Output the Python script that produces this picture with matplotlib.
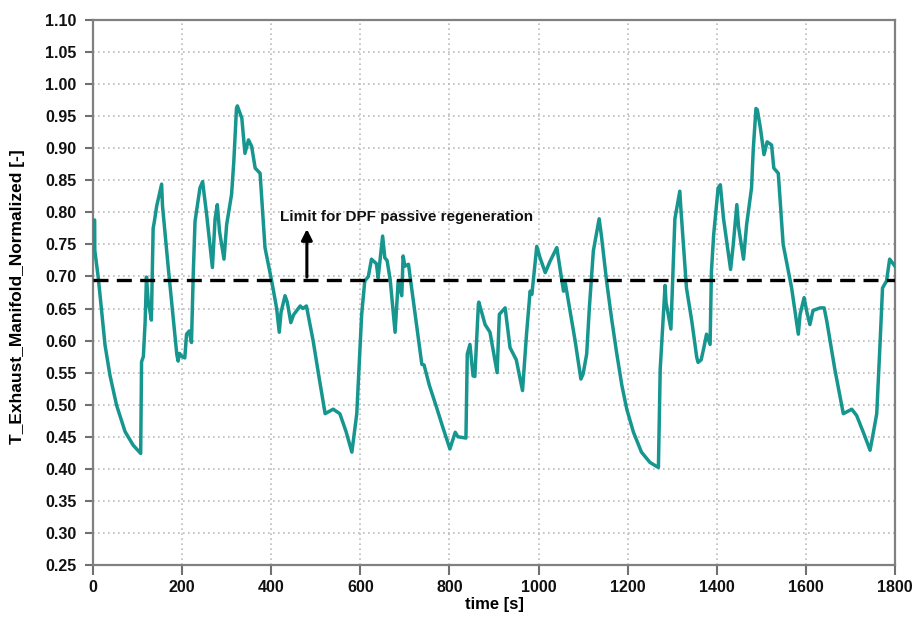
import matplotlib
matplotlib.use("Agg")
import matplotlib.pyplot as plt

time_s = [0, 3.7, 4, 12, 19.5, 27, 38, 53, 72, 90, 107, 109, 113, 117, 120, 124, 128, 131, 135, 138, 143, 154, 156, 169, 188, 191, 194, 200, 206, 210, 216, 221, 225, 229, 240, 246, 255, 268, 274, 279, 284, 294, 300, 311, 316, 322, 324, 334, 341, 349, 356, 364, 375, 386, 401, 412, 418, 422, 431, 436, 444, 450, 465, 471, 479, 494, 508, 521, 539, 554, 568, 581, 592, 603, 610, 618, 625, 636, 640, 650, 655, 660, 667, 678, 685, 693, 696, 700, 708, 719, 738, 743, 755, 771, 785, 801, 813, 819, 837, 840, 846, 853, 857, 865, 866, 880, 891, 907, 912, 925, 936, 950, 964, 973, 981, 985, 996, 1003, 1015, 1026, 1041, 1045, 1056, 1060, 1082, 1095, 1100, 1108, 1114, 1123, 1136, 1141, 1153, 1164, 1175, 1187, 1198, 1213, 1231, 1250, 1269, 1273, 1284, 1286, 1291, 1297, 1302, 1306, 1317, 1319, 1332, 1344, 1355, 1358, 1365, 1371, 1377, 1385, 1388, 1393, 1403, 1408, 1415, 1431, 1437, 1445, 1449, 1460, 1467, 1478, 1482, 1488, 1491, 1498, 1506, 1513, 1523, 1528, 1538, 1549, 1568, 1583, 1587, 1596, 1602, 1609, 1616, 1632, 1641, 1647, 1665, 1684, 1703, 1714, 1730, 1744, 1751, 1759, 1766, 1772, 1781, 1788, 1800]
t_exh = [0.788, 0.788, 0.741, 0.697, 0.645, 0.593, 0.546, 0.499, 0.458, 0.437, 0.424, 0.567, 0.575, 0.629, 0.699, 0.660, 0.645, 0.632, 0.775, 0.787, 0.810, 0.844, 0.810, 0.713, 0.579, 0.568, 0.580, 0.575, 0.573, 0.610, 0.615, 0.597, 0.704, 0.786, 0.838, 0.848, 0.797, 0.714, 0.790, 0.812, 0.770, 0.727, 0.781, 0.828, 0.879, 0.962, 0.966, 0.947, 0.892, 0.913, 0.903, 0.869, 0.861, 0.745, 0.693, 0.651, 0.613, 0.644, 0.670, 0.660, 0.628, 0.640, 0.654, 0.650, 0.654, 0.600, 0.540, 0.486, 0.493, 0.486, 0.458, 0.426, 0.486, 0.641, 0.693, 0.700, 0.727, 0.720, 0.698, 0.763, 0.729, 0.725, 0.695, 0.613, 0.693, 0.670, 0.732, 0.716, 0.719, 0.662, 0.563, 0.562, 0.530, 0.496, 0.465, 0.431, 0.457, 0.450, 0.448, 0.579, 0.594, 0.545, 0.544, 0.657, 0.660, 0.625, 0.613, 0.550, 0.641, 0.651, 0.589, 0.570, 0.522, 0.610, 0.677, 0.672, 0.747, 0.730, 0.706, 0.724, 0.745, 0.727, 0.677, 0.690, 0.600, 0.540, 0.548, 0.579, 0.651, 0.740, 0.790, 0.764, 0.691, 0.634, 0.582, 0.530, 0.493, 0.457, 0.426, 0.410, 0.402, 0.555, 0.686, 0.660, 0.641, 0.618, 0.712, 0.790, 0.833, 0.810, 0.682, 0.630, 0.574, 0.566, 0.570, 0.589, 0.610, 0.594, 0.708, 0.765, 0.838, 0.843, 0.791, 0.711, 0.750, 0.812, 0.777, 0.727, 0.781, 0.838, 0.900, 0.962, 0.960, 0.931, 0.890, 0.910, 0.905, 0.869, 0.861, 0.750, 0.682, 0.610, 0.641, 0.667, 0.645, 0.625, 0.647, 0.651, 0.651, 0.630, 0.555, 0.486, 0.493, 0.483, 0.455, 0.429, 0.455, 0.486, 0.589, 0.682, 0.693, 0.727, 0.716]

limit_value = 0.695
x_ticks = [0, 200, 400, 600, 800, 1000, 1200, 1400, 1600, 1800]
y_ticks = [0.25, 0.30, 0.35, 0.40, 0.45, 0.50, 0.55, 0.60, 0.65, 0.70, 0.75,
           0.80, 0.85, 0.90, 0.95, 1.00, 1.05, 1.10]

plt.rcParams['font.family'] = ['Liberation Sans', 'DejaVu Sans']

fig = plt.figure(figsize=(9.19, 6.19), dpi=100)
ax = fig.add_axes([93/919, 1-565/619, (895-93)/919, (565-20)/619])

ax.plot(time_s, t_exh, color='#16968f', lw=2.5, zorder=3)
ax.axhline(limit_value, color='black', lw=2.4, ls=(0, (4.5, 2.5)), zorder=4)

ax.annotate('', xy=(480, 0.774), xytext=(480, 0.699),
            arrowprops=dict(arrowstyle='-|>', color='black', lw=2.2,
                            mutation_scale=16, shrinkA=0, shrinkB=0), zorder=5)
ax.text(420, 0.792, 'Limit for DPF passive regeneration', fontsize=11,
        fontweight='bold', color='#111111', ha='left', va='center')

ax.set_xlim(0, 1800)
ax.set_ylim(0.25, 1.10)
ax.set_xticks(x_ticks)
ax.set_yticks(y_ticks)
ax.set_xticklabels([str(v) for v in x_ticks])
ax.set_yticklabels([f'{v:.2f}' for v in y_ticks])
for lab in ax.get_xticklabels() + ax.get_yticklabels():
    lab.set_fontweight('bold')
    lab.set_fontsize(11.5)
    lab.set_color('#111111')

ax.grid(True, color='#bbbbbb', ls=(0, (1, 2)), lw=1.2)
ax.set_axisbelow(True)
for s in ax.spines.values():
    s.set_color('#808080')
    s.set_linewidth(1.6)
ax.tick_params(axis='y', direction='out', length=6, width=1.5, color='#707070', pad=6)
ax.tick_params(axis='x', direction='out', length=7, width=1.5, color='#707070', pad=4)

ax.set_xlabel('time [s]', fontsize=12, fontweight='bold', labelpad=1)
ax.set_ylabel('T_Exhaust_Manifold_Normalized [-]', fontsize=12.5, fontweight='bold')
ax.yaxis.set_label_coords((25-93)/802, (565-297)/545)

fig.savefig('out.png', dpi=100)
